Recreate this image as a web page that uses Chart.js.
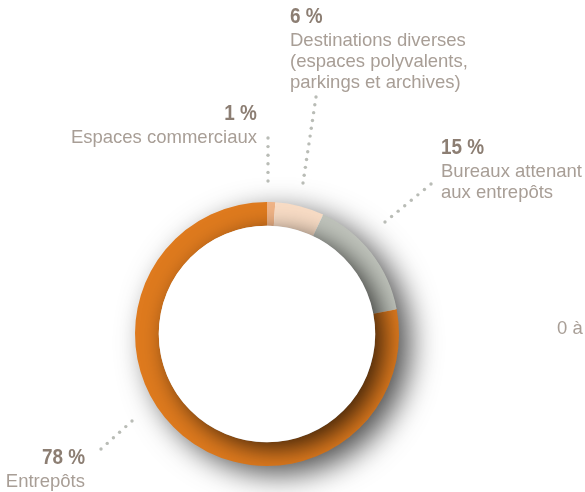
<!DOCTYPE html>
<html lang="fr">
<head>
<meta charset="utf-8">
<script src="https://cdn.jsdelivr.net/npm/chart.js"></script>
<style>
  html, body { margin: 0; padding: 0; background: #fff; }
  #zone { position: relative; width: 585px; height: 492px; overflow: hidden; }
  #graphique { position: absolute; left: 0; top: 0; }
  .etiquette { position: absolute; white-space: nowrap; }
  .pct { font-family: "Liberation Sans", Arial, sans-serif; font-weight: bold;
         font-size: 22px; line-height: 26px; color: #8c7e73; }
  .pct span { display: inline-block; transform: scaleX(0.86); }
  .desc { font-family: "Liberation Sans", Arial, sans-serif; font-size: 18.5px; line-height: 21px; color: #a89e96; }
  #coupe { position: absolute; left: 557px; top: 317px; font-family: "Liberation Sans", Arial, sans-serif;
           font-size: 18.5px; line-height: 21px; color: #a89e96; }
</style>
</head>
<body>
<div id="zone">
  <canvas id="graphique" width="585" height="492"></canvas>
  <div id="coupe">0 à</div>
</div>
<script>
// données du graphique (sens horaire depuis midi)
const categories = [
    ['Espaces commerciaux'],
    ['Destinations diverses', '(espaces polyvalents,', 'parkings et archives)'],
    ['Bureaux attenant', 'aux entrepôts'],
    ['Entrepôts']
];
const valeurs = [1, 6, 15, 78];
const couleurs = ['#efb386', '#f8dcc5', '#bfc3bb', '#de7a1e'];

// placement des étiquettes et des pointillés
const positions = [
    { x: 257, y: 100, align: 'right' },
    { x: 290, y: 3, align: 'left' },
    { x: 441, y: 134, align: 'left' },
    { x: 85, y: 444, align: 'right' }
];
const pointilles = [
    [268, 138, 268, 181],
    [316, 97, 303, 183],
    [431, 184, 385, 222],
    [132, 421, 101, 449]
];

// étiquettes en texte HTML
const zone = document.getElementById('zone');
categories.forEach((lignes, i) => {
    const p = positions[i];
    const div = document.createElement('div');
    div.className = 'etiquette';
    div.style.top = p.y + 'px';
    div.style.textAlign = p.align;
    if (p.align === 'right') div.style.right = (585 - p.x) + 'px';
    else div.style.left = p.x + 'px';
    div.innerHTML = '<div class="pct"><span style="transform-origin:' + p.align + '">' + valeurs[i] + ' %</span></div>' +
        '<div class="desc">' + lignes.join('<br>') + '</div>';
    zone.appendChild(div);
});

// ombres portées de l'anneau et du disque central
const ombres = {
    id: 'ombres',
    beforeDatasetsDraw(chart) {
        const arc = chart.getDatasetMeta(0).data[0];
        const ctx = chart.ctx;
        ctx.save();
        ctx.shadowColor = 'rgba(0, 0, 0, 0.7)';
        ctx.shadowBlur = 30;
        ctx.shadowOffsetX = 12;
        ctx.shadowOffsetY = 9;
        ctx.fillStyle = '#ffffff';
        ctx.beginPath();
        ctx.arc(arc.x, arc.y, arc.outerRadius - 1, 0, Math.PI * 2);
        ctx.fill();
        ctx.restore();
    },
    afterDatasetsDraw(chart) {
        const arc = chart.getDatasetMeta(0).data[0];
        const ctx = chart.ctx;
        ctx.save();
        ctx.beginPath();
        ctx.arc(arc.x, arc.y, arc.outerRadius, 0, Math.PI * 2);
        ctx.clip();
        ctx.shadowColor = 'rgba(0, 0, 0, 0.7)';
        ctx.shadowBlur = 24;
        ctx.shadowOffsetX = 9;
        ctx.shadowOffsetY = 7;
        ctx.fillStyle = '#ffffff';
        ctx.beginPath();
        ctx.arc(arc.x, arc.y, arc.innerRadius, 0, Math.PI * 2);
        ctx.fill();
        ctx.restore();
    },
    afterDraw(chart) {
        const ctx = chart.ctx;
        ctx.save();
        ctx.fillStyle = '#b9bcb6';
        pointilles.forEach(([x1, y1, x2, y2]) => {
            const long = Math.hypot(x2 - x1, y2 - y1);
            const n = Math.round(long / 8);
            for (let k = 0; k <= n; k++) {
                ctx.beginPath();
                ctx.arc(x1 + (x2 - x1) * k / n, y1 + (y2 - y1) * k / n, 1.7, 0, Math.PI * 2);
                ctx.fill();
            }
        });
        ctx.restore();
    }
};

new Chart(document.getElementById('graphique'), {
    type: 'doughnut',
    data: {
        labels: categories,
        datasets: [{
            data: valeurs,
            backgroundColor: couleurs,
            borderWidth: 0
        }]
    },
    options: {
        responsive: false,
        animation: false,
        cutout: '82%',
        layout: { padding: { left: 135, right: 186, top: 202, bottom: 26 } },
        plugins: {
            legend: { display: false },
            tooltip: { enabled: false }
        }
    },
    plugins: [ombres]
});
</script>
</body>
</html>
